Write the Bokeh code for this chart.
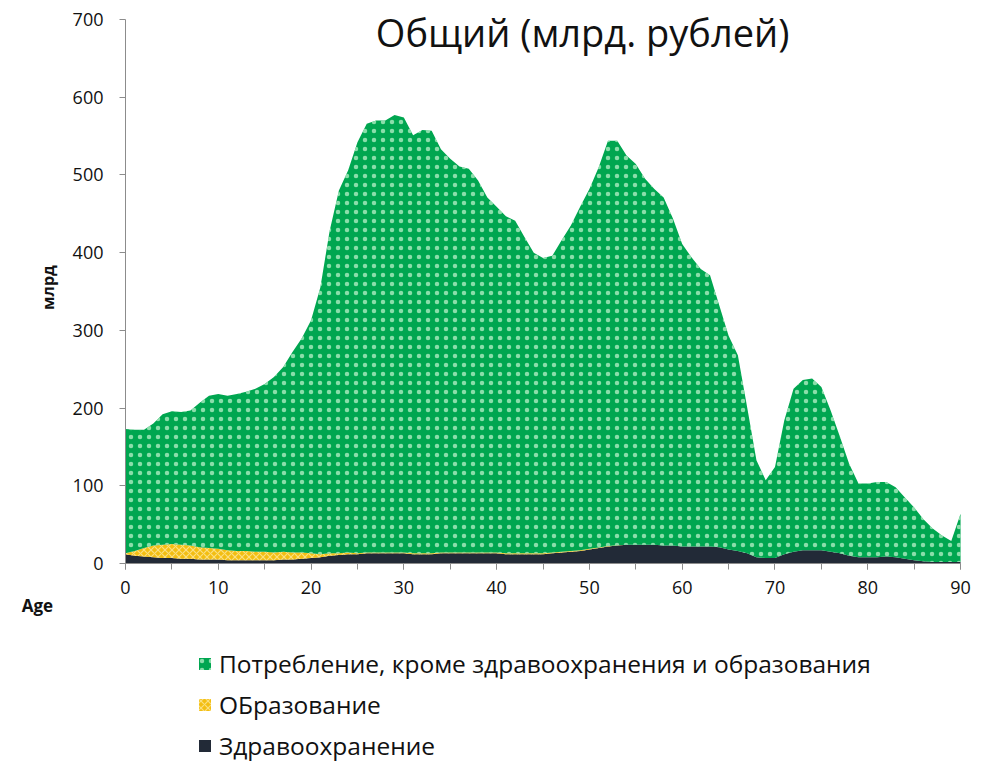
import math
from bokeh.plotting import figure
from bokeh.models import (ColumnDataSource, Legend, LegendItem, Label, Range1d,
                          FixedTicker)
from bokeh.transform import stack
from bokeh.embed import file_html
from bokeh.resources import INLINE

# ---------------- data ----------------
ages = list(range(0, 91))

total = [173, 172, 172, 180, 192, 196, 195, 197, 207, 216,
         218, 216, 218, 221, 225, 231, 240, 253, 272, 290,
         313, 355, 428, 480, 506, 542, 566, 570, 570, 577,
         574, 551, 558, 557, 533, 521, 511, 508, 493, 471,
         459, 447, 441, 420, 400, 393, 396, 416, 435, 459,
         482, 510, 544, 544, 525, 514, 495, 482, 471, 444,
         411, 394, 379, 371, 332, 293, 268, 201, 133, 107,
         124, 184, 225, 236, 238, 227, 197, 163, 128, 103,
         103, 105, 105, 98, 85, 72, 57, 45, 36, 29,
         64]

health = [12, 10, 9, 8, 7, 7, 6, 6, 5, 5,
          5, 4, 4, 4, 4, 4, 4, 5, 5, 6,
          7, 8, 10, 11, 12, 12, 13, 13, 13, 13,
          13, 12, 12, 12, 13, 13, 13, 13, 13, 13,
          13, 12, 12, 12, 12, 12, 13, 14, 15, 16,
          18, 20, 22, 23, 24, 24, 24, 24, 23, 23,
          22, 22, 22, 22, 21, 18, 16, 13, 8, 7,
          7, 12, 15, 17, 17, 17, 15, 13, 10, 8,
          8, 8, 9, 8, 6, 4, 3, 2, 2, 2,
          2]

education = [1, 6, 11, 15, 17, 18, 18, 17, 16, 15,
             14, 13, 12, 12, 11, 11, 10, 10, 9, 8,
             6, 4, 3, 2, 2, 1, 1, 1, 1, 1,
             1, 1, 1, 1, 1, 1, 1, 1, 1, 1,
             1, 1, 1, 1, 1, 1, 1, 1, 1, 1,
             1, 0.5, 0.5, 0.5, 0, 0, 0, 0, 0, 0,
             0, 0, 0, 0, 0, 0, 0, 0, 0, 0,
             0, 0, 0, 0, 0, 0, 0, 0, 0, 0,
             0, 0, 0, 0, 0, 0, 0, 0, 0, 0,
             0]

consumption = [t - h - e for t, h, e in zip(total, health, education)]

labels = ["Потребление, кроме здравоохранения и образования",
          "ОБразование",
          "Здравоохранение"]
title_text = "Общий  (млрд. рублей)"
y_label = "млрд"
x_label = "Age"
x_ticks = list(range(0, 91, 10))
x_minor = list(range(0, 91, 5))
y_ticks = list(range(0, 701, 100))

GREEN = "#00A650"
YELLOW = "#F3BE12"
DARK = "#222A37"
FONT = "Open Sans"
TXT = "#111111"

src = ColumnDataSource(dict(age=ages, health=health, education=education,
                            consumption=consumption))

W, H = 993, 764
# frame covers the whole canvas; axes sit at fixed data locations
p = figure(width=W, height=H,
           x_range=Range1d(-13.47, 93.55), y_range=Range1d(-258.7, 724.5),
           output_backend="svg", toolbar_location=None, min_border=0)
p.outline_line_color = None
p.grid.visible = False

r_h = p.varea(x="age", y1=0, y2=stack("health"), source=src, fill_color=DARK)
r_e = p.varea(x="age", y1=stack("health"), y2=stack("health", "education"),
              source=src, fill_color=YELLOW,
              hatch_pattern="diagonal_cross", hatch_color="#FCE79A",
              hatch_alpha=0.8, hatch_scale=7, hatch_weight=1.2)
r_c = p.varea(x="age", y1=stack("health", "education"),
              y2=stack("health", "education", "consumption"),
              source=src, fill_color=GREEN,
              hatch_pattern="dot", hatch_color="#B8F0C8",
              hatch_alpha=0.75, hatch_scale=9, hatch_weight=1.3)

for ax in (p.xaxis, p.yaxis):
    ax.fixed_location = 0
    ax.axis_line_color = "#8C8C8C"
    ax.major_tick_line_color = "#8C8C8C"
    ax.minor_tick_line_color = "#8C8C8C"
    ax.major_tick_in = 0
    ax.major_tick_out = 6
    ax.minor_tick_in = 0
    ax.minor_tick_out = 6
    ax.major_label_text_font = FONT
    ax.major_label_text_font_size = "18px"
    ax.major_label_text_color = TXT

p.xaxis.bounds = (0, 90)
p.xaxis.ticker = FixedTicker(ticks=x_ticks, minor_ticks=x_minor)
p.xaxis.major_label_standoff = 12
p.yaxis.bounds = (0, 700)
p.yaxis.ticker = FixedTicker(ticks=y_ticks)
p.yaxis.minor_tick_line_color = None
p.yaxis.major_label_standoff = 16

p.add_layout(Label(x=49.8, y=684, text=title_text, text_align="center",
                   text_baseline="middle", text_font=FONT,
                   text_font_size="38px", text_color=TXT))
p.add_layout(Label(x=-8.4, y=355, text=y_label, angle=math.pi / 2,
                   text_align="center", text_baseline="middle",
                   text_font=FONT, text_font_style="bold",
                   text_font_size="16px", text_color=TXT))
p.add_layout(Label(x=-9.5, y=-54, text=x_label, text_align="center",
                   text_baseline="middle", text_font=FONT,
                   text_font_style="bold", text_font_size="17px",
                   text_color=TXT))

legend = Legend(items=[LegendItem(label=labels[0], renderers=[r_c]),
                       LegendItem(label=labels[1], renderers=[r_e]),
                       LegendItem(label=labels[2], renderers=[r_h])],
                location=(197, 2), orientation="vertical",
                padding=0, margin=0, spacing=7,
                glyph_width=15, glyph_height=15, label_height=34,
                label_standoff=7, label_text_font=FONT,
                label_text_font_size="24.5px", label_text_color=TXT,
                border_line_alpha=0, background_fill_alpha=0)
p.add_layout(legend, "center")

open("out.html", "w").write(file_html(p, INLINE))
